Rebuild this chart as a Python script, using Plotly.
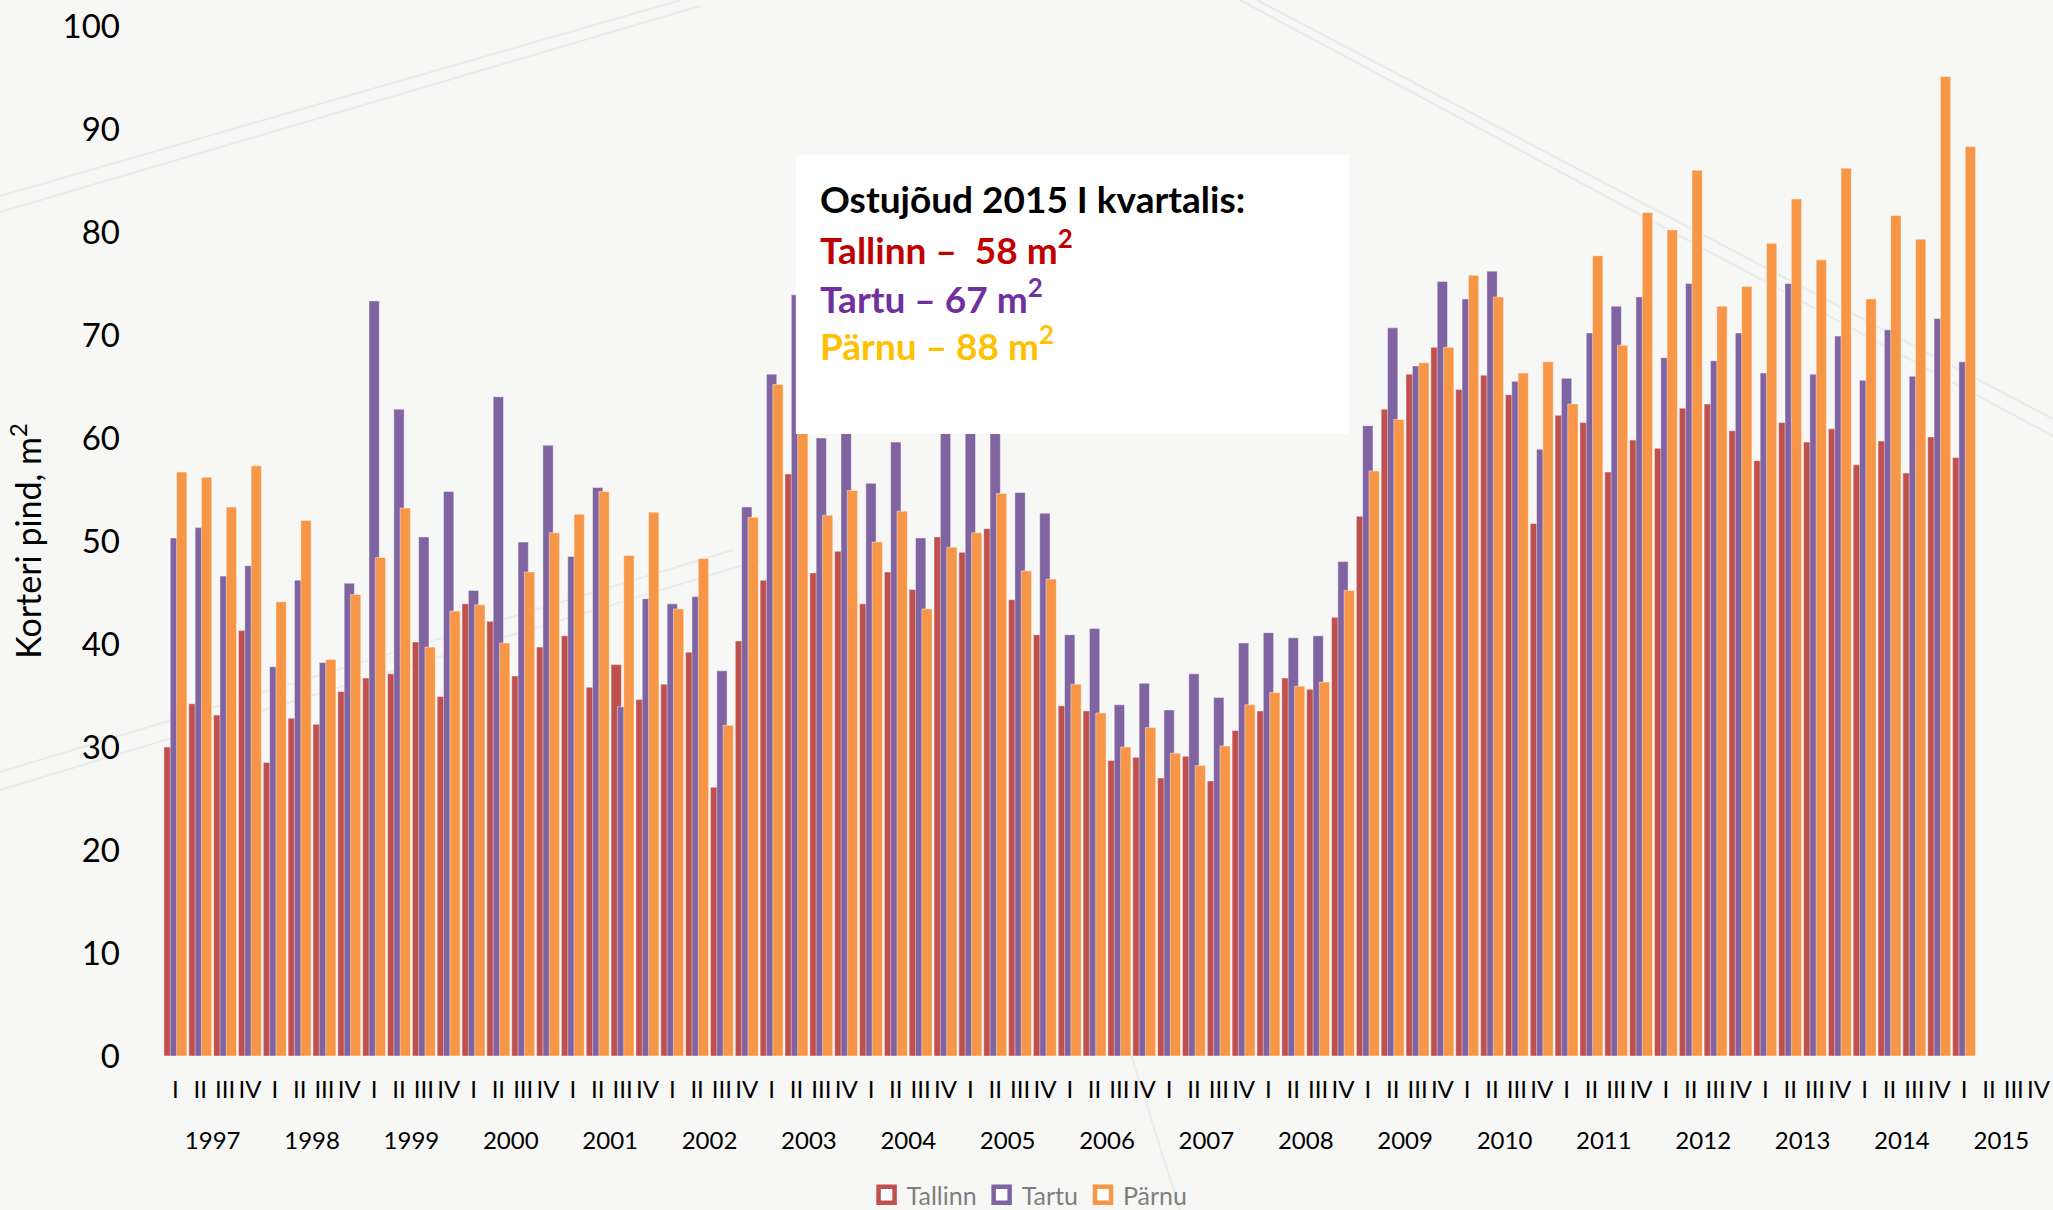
import plotly.graph_objects as go

YEARS = [str(y) for y in range(1997, 2016)]
QUARTERS = ["I", "II", "III", "IV"]

tallinn = [30.0, 34.2, 33.1, 41.3, 28.5, 32.8, 32.2, 35.4, 36.7, 37.1, 40.2, 34.9,
           43.9, 42.2, 36.9, 39.7, 40.8, 35.8, 38.0, 34.6, 36.1, 39.2, 26.1, 40.3,
           46.2, 56.5, 46.9, 49.0, 43.9, 47.0, 45.3, 50.4, 48.9, 51.2, 44.3, 40.9,
           34.0, 33.5, 28.7, 29.0, 27.0, 29.1, 26.7, 31.6, 33.5, 36.7, 35.6, 42.6,
           52.4, 62.8, 66.2, 68.8, 64.7, 66.1, 64.2, 51.7, 62.2, 61.5, 56.7, 59.8,
           59.0, 62.9, 63.3, 60.7, 57.8, 61.5, 59.6, 60.9, 57.4, 59.7, 56.6, 60.1,
           58.1]
tartu = [50.3, 51.3, 46.6, 47.6, 37.8, 46.2, 38.2, 45.9, 73.3, 62.8, 50.4, 54.8,
         45.2, 64.0, 49.9, 59.3, 48.5, 55.2, 33.9, 44.4, 43.9, 44.6, 37.4, 53.3,
         66.2, 73.9, 60.0, 61.0, 55.6, 59.6, 50.3, 61.0, 61.0, 61.0, 54.7, 52.7,
         40.9, 41.5, 34.1, 36.2, 33.6, 37.1, 34.8, 40.1, 41.1, 40.6, 40.8, 48.0,
         61.2, 70.7, 67.0, 75.2, 73.5, 76.2, 65.5, 58.9, 65.8, 70.2, 72.8, 73.7,
         67.8, 75.0, 67.5, 70.2, 66.3, 75.0, 66.2, 69.9, 65.6, 70.5, 66.0, 71.6,
         67.4]
parnu = [56.7, 56.2, 53.3, 57.3, 44.1, 52.0, 38.5, 44.8, 48.4, 53.2, 39.7, 43.2,
         43.8, 40.1, 47.0, 50.8, 52.6, 54.8, 48.6, 52.8, 43.4, 48.3, 32.1, 52.3,
         65.2, 61.0, 52.5, 54.9, 49.9, 52.9, 43.4, 49.4, 50.8, 54.6, 47.1, 46.3,
         36.1, 33.3, 30.0, 31.9, 29.4, 28.2, 30.1, 34.1, 35.3, 35.9, 36.3, 45.2,
         56.8, 61.8, 67.3, 68.8, 75.8, 73.7, 66.3, 67.4, 63.3, 77.7, 69.0, 81.9,
         80.2, 86.0, 72.8, 74.7, 78.9, 83.2, 77.3, 86.2, 73.5, 81.6, 79.3, 95.1,
         88.3]

SERIES = ["Tallinn", "Tartu", "Pärnu"]
COLORS = ["#C0504D", "#8064A2", "#F79646"]

cats = [f"{y} {q}" for y in YEARS for q in QUARTERS]
cat_quarter = [q for _ in YEARS for q in QUARTERS]
n_cat = len(cats)
n_q = len(QUARTERS)
year_centers = [i * n_q + (n_q - 1) / 2 for i in range(len(YEARS))]

W, H = 2053, 1210
ML, MR, MT, MB = 163, 2, 26, 154


def pad(v):
    return v + [None] * (n_cat - len(v))


def px2paper(xp, yp):
    return (xp - ML) / (W - ML - MR), (H - MB - yp) / (H - MB - MT)


fig = go.Figure()

# faint decorative background lines (as in the slide background)
deco = [((0, 196), (681, 0)), ((0, 212), (700, 6)),
        ((1257, 0), (2053, 419)), ((1240, 0), (2053, 436)),
        ((0, 772), (733, 550)), ((0, 790), (760, 560)),
        ((1180, 1210), (1120, 1020))]
for (a, b) in deco:
    x0, y0 = px2paper(*a)
    x1, y1 = px2paper(*b)
    fig.add_shape(type="line", xref="paper", yref="paper", x0=x0, y0=y0, x1=x1, y1=y1,
                  line=dict(color="#e9ecea", width=2), layer="below")

bar_w = 0.415
offsets = [-0.463, -0.208, 0.047]
for name, vals, col, off in zip(SERIES, [tallinn, tartu, parnu], COLORS, offsets):
    fig.add_trace(go.Bar(
        x=cats, y=pad(vals), name=name, showlegend=False,
        marker=dict(color=col, line=dict(color="rgba(255,255,255,0.55)", width=0.8)),
        width=bar_w, offset=off,
    ))

# invisible trace carrying the year axis
fig.add_trace(go.Scatter(x=year_centers, y=[None] * len(year_centers), xaxis="x2",
                         mode="markers", showlegend=False, hoverinfo="skip"))

# legend entries (hollow-looking squares as in original)
for name, col in zip(SERIES, COLORS):
    fig.add_trace(go.Scatter(
        x=[cats[0]], y=[None], mode="markers", name=name,
        marker=dict(symbol="square", size=16, color="white",
                    line=dict(color=col, width=4.5)),
        hoverinfo="skip",
    ))

# white text box covering part of the bars
fig.add_shape(type="rect", xref="paper", yref="y", x0=0.3352, x1=0.628,
              y0=60.4, y1=87.5, fillcolor="white", line=dict(width=0), layer="above")

lines = [
    ("Ostujõud 2015 I kvartalis:", "#000000", 83.3),
    ("Tallinn –&nbsp; 58 m<sup>2</sup>", "#C00000", 78.5),
    ("Tartu – 67 m<sup>2</sup>", "#7030A0", 73.8),
    ("Pärnu – 88 m<sup>2</sup>", "#FFC000", 69.2),
]
for txt, col, yy in lines:
    fig.add_annotation(xref="paper", yref="y", x=0.347, y=yy, text="<b>" + txt + "</b>",
                       showarrow=False, xanchor="left", yanchor="middle",
                       font=dict(family="Lato", size=37, color=col))

fig.update_layout(
    width=W, height=H,
    margin=dict(l=ML, r=MR, t=MT, b=MB),
    barmode="overlay",
    paper_bgcolor="#f7f7f6",
    plot_bgcolor="rgba(0,0,0,0)",
    font=dict(family="Lato", color="#000000"),
    legend=dict(orientation="h", x=0.459, xanchor="center",
                yref="container", y=(H - 1195) / H, yanchor="middle",
                font=dict(size=25, color="#7f7f7f"), bgcolor="rgba(0,0,0,0)",
                itemsizing="trace"),
    xaxis=dict(type="category", categoryorder="array", categoryarray=cats,
               tickmode="array", tickvals=cats, ticktext=cat_quarter,
               range=[-0.5, n_cat - 0.5], automargin=False,
               showgrid=False, showline=False, ticks="", zeroline=False,
               ticklabelstandoff=17, tickfont=dict(size=24, color="#000000")),
    xaxis2=dict(overlaying="x", anchor="y", side="bottom", range=[-0.5, n_cat - 0.5],
                tickmode="array", tickvals=year_centers, ticktext=YEARS,
                automargin=False, showgrid=False, showline=False, zeroline=False,
                ticks="", ticklabelstandoff=68, tickfont=dict(size=24, color="#000000")),
    yaxis=dict(range=[0, 100], tick0=0, dtick=10, showgrid=False, zeroline=False,
               showline=False, automargin=False, tickfont=dict(size=33, color="#000000"),
               ticklabelstandoff=42,
               title=dict(text="Korteri pind, m<sup>2</sup>", font=dict(size=34),
                          standoff=10)),
)

fig.write_html("out.html", config={"displayModeBar": False},
               post_script="document.body.style.margin='0';document.body.style.overflow='hidden';")
